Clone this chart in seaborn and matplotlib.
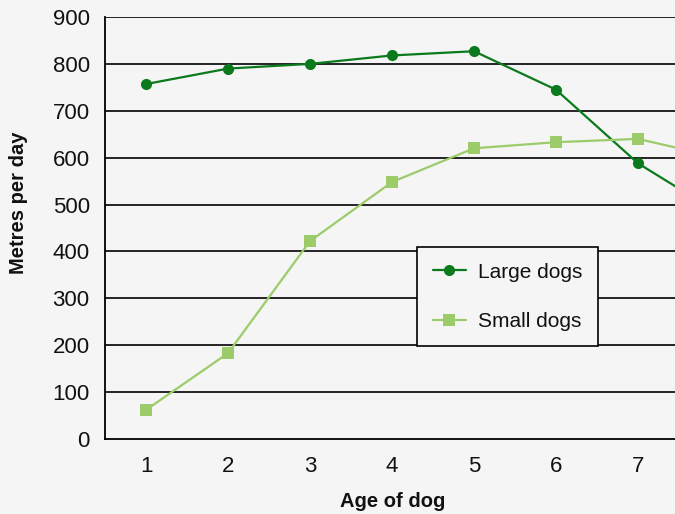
import numpy as np
import pandas as pd
import matplotlib
matplotlib.use("Agg")
import matplotlib.pyplot as plt
import seaborn as sns

# values (point 8 lies past the cropped right edge)
ages = [1, 2, 3, 4, 5, 6, 7, 8]
large_dogs = [757, 790, 800, 818, 827, 745, 588, 480]
small_dogs = [62, 183, 422, 548, 620, 633, 640, 600]
series_names = ["Large dogs", "Small dogs"]
y_ticks = [0, 100, 200, 300, 400, 500, 600, 700, 800, 900]
x_labels = ["1", "2", "3", "4", "5", "6", "7"]

data = pd.DataFrame({
    "age": ages * 2,
    "metres": large_dogs + small_dogs,
    "series": [series_names[0]] * len(ages) + [series_names[1]] * len(ages),
})

sns.set_style("white")
plt.rcParams["font.family"] = ["Liberation Sans", "DejaVu Sans"]
plt.rcParams["text.color"] = "#111111"
plt.rcParams["axes.labelcolor"] = "#111111"
plt.rcParams["xtick.color"] = "#111111"
plt.rcParams["ytick.color"] = "#111111"

bg = "#f5f5f5"
fig = plt.figure(figsize=(6.75, 5.14), dpi=100, facecolor=bg)
# axes run past the right border, as in the cropped original
ax = fig.add_axes([105 / 675, 1 - 439 / 514, 656 / 675, 422 / 514])
ax.set_facecolor(bg)

for y in y_ticks[1:]:
    ax.axhline(y, color="black", lw=1.2, zorder=1)

palette = {"Large dogs": "#0b7a1c", "Small dogs": "#9ccc6a"}
sns.lineplot(data=data, x="age", y="metres", hue="series", style="series",
             palette=palette, markers={"Large dogs": "o", "Small dogs": "s"},
             dashes=False, markersize=8, markeredgewidth=0, linewidth=1.6,
             ax=ax, zorder=3)

ax.set_xlim(0.5, 8.5)
ax.set_ylim(0, 900)
ax.set_yticks(y_ticks)
ax.set_xticks(ages[:len(x_labels)])
ax.set_xticklabels(x_labels)
ax.set_xticks(np.arange(0.5, 9, 1), minor=True)
ax.tick_params(axis="x", which="major", length=0, labelsize=16, pad=12)
ax.tick_params(axis="x", which="minor", length=6, width=1, color="black", direction="out")
ax.tick_params(axis="y", length=8, width=1.2, color="black", direction="out", labelsize=16, pad=3)

for side in ["top", "right"]:
    ax.spines[side].set_visible(False)
for side in ["left", "bottom"]:
    ax.spines[side].set_color("black")
    ax.spines[side].set_linewidth(1.3)

ax.set_xlabel("Age of dog", fontsize=14.5, fontweight="bold")
ax.xaxis.set_label_coords(0.438, -0.125)
ax.set_ylabel("Metres per day", fontsize=14.5, fontweight="bold")
ax.yaxis.set_label_coords(-0.117, 0.559)

leg = ax.legend(title=None, fontsize=15, frameon=True, fancybox=False,
                loc="upper left", bbox_to_anchor=((417 - 105) / 656, 1 - (247 - 17) / 422),
                borderpad=0.75, labelspacing=1.45, handlelength=1.6, handletextpad=0.6,
                borderaxespad=0)
leg.get_frame().set_edgecolor("black")
leg.get_frame().set_linewidth(1.2)
leg.get_frame().set_facecolor(bg)
leg.get_frame().set_alpha(1)

fig.savefig("out.png", dpi=100, facecolor=bg)
